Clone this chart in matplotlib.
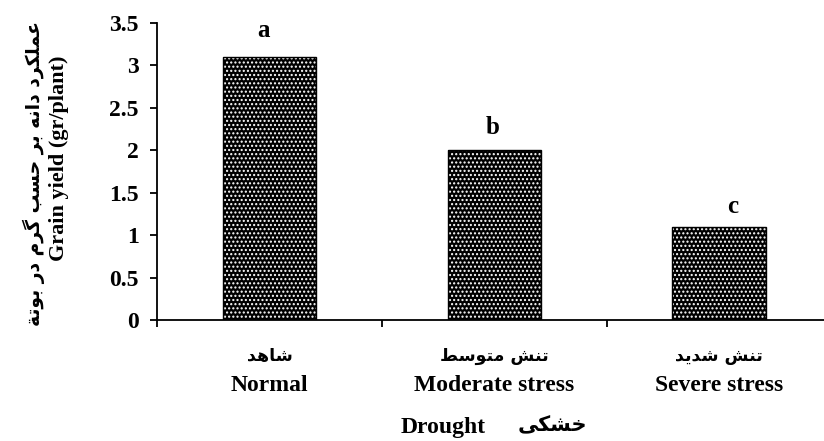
import matplotlib
matplotlib.use('Agg')
import matplotlib.pyplot as plt
from matplotlib.ticker import FormatStrFormatter

# ---------------- data ----------------
categories_en = ['Normal', 'Moderate stress', 'Severe stress']
categories_fa = ['شاهد', 'تنش متوسط', 'تنش شدید']
grain_yield = [3.1, 2.0, 1.1]
letters = ['a', 'b', 'c']
yticks = [0, 0.5, 1, 1.5, 2, 2.5, 3, 3.5]
ylabel_en = 'Grain yield (gr/plant)'
ylabel_fa = 'عملکرد دانه بر حسب گرم در بوتة'
xlabel_en = 'Drought'
xlabel_fa = 'خشکی'

# ------------- simple Arabic-script shaping (matplotlib has no CTL) -------------
_AR = {
    '\u0627': ('\uFE8D', '\uFE8E', None, None),        # alef
    '\u0628': ('\uFE8F', '\uFE90', '\uFE91', '\uFE92'),  # beh
    '\u0629': ('\uFE93', '\uFE94', None, None),        # teh marbuta
    '\u062A': ('\uFE95', '\uFE96', '\uFE97', '\uFE98'),  # teh
    '\u062D': ('\uFEA1', '\uFEA2', '\uFEA3', '\uFEA4'),  # hah
    '\u062E': ('\uFEA5', '\uFEA6', '\uFEA7', '\uFEA8'),  # khah
    '\u062F': ('\uFEA9', '\uFEAA', None, None),        # dal
    '\u0631': ('\uFEAD', '\uFEAE', None, None),        # reh
    '\u0633': ('\uFEB1', '\uFEB2', '\uFEB3', '\uFEB4'),  # seen
    '\u0634': ('\uFEB5', '\uFEB6', '\uFEB7', '\uFEB8'),  # sheen
    '\u0637': ('\uFEC1', '\uFEC2', '\uFEC3', '\uFEC4'),  # tah
    '\u0639': ('\uFEC9', '\uFECA', '\uFECB', '\uFECC'),  # ain
    '\u0644': ('\uFEDD', '\uFEDE', '\uFEDF', '\uFEE0'),  # lam
    '\u0645': ('\uFEE1', '\uFEE2', '\uFEE3', '\uFEE4'),  # meem
    '\u0646': ('\uFEE5', '\uFEE6', '\uFEE7', '\uFEE8'),  # noon
    '\u0647': ('\uFEE9', '\uFEEA', '\uFEEB', '\uFEEC'),  # heh
    '\u0648': ('\uFEED', '\uFEEE', None, None),        # waw
    '\u06A9': ('\uFB8E', '\uFB8F', '\uFB90', '\uFB91'),  # keheh
    '\u06AF': ('\uFB92', '\uFB93', '\uFB94', '\uFB95'),  # gaf
    '\u06CC': ('\uFBFC', '\uFBFD', '\uFBFE', '\uFBFF'),  # farsi yeh
}


def shape(text):
    out = []
    n = len(text)
    for i, ch in enumerate(text):
        if ch not in _AR:
            out.append(ch)
            continue
        prev = text[i - 1] if i > 0 else ''
        nxt = text[i + 1] if i < n - 1 else ''
        pj = prev in _AR and _AR[prev][2] is not None
        nj = _AR[ch][2] is not None and nxt in _AR
        iso, fin, ini, med = _AR[ch]
        if pj and nj:
            out.append(med)
        elif pj:
            out.append(fin)
        elif nj:
            out.append(ini)
        else:
            out.append(iso)
    return ''.join(reversed(out))


SERIF = ['Liberation Serif', 'DejaVu Serif']
FA = ['DejaVu Sans']

W, H = 824, 441
fig = plt.figure(figsize=(W / 100, H / 100), dpi=100)
ax = fig.add_axes([157 / W, (H - 320) / H, (831.5 - 157) / W, (320 - 23) / H])

x = list(range(len(grain_yield)))
bw = 0.415
ax.bar(x, grain_yield, width=bw, color='black', edgecolor='white',
       hatch='....', linewidth=0, zorder=2)
ax.bar(x, grain_yield, width=bw, fill=False, edgecolor='black',
       linewidth=1.0, zorder=3)

ax.set_xlim(-0.5, 2.5)
ax.set_ylim(0, 3.5)
ax.set_yticks(yticks)
ax.yaxis.set_major_formatter(FormatStrFormatter('%g'))
ax.set_xticks([-0.5, 0.5, 1.5, 2.5])
ax.set_xticklabels([])

for s in ['top', 'right']:
    ax.spines[s].set_visible(False)
for s in ['left', 'bottom']:
    ax.spines[s].set_linewidth(1.3)
ax.tick_params(axis='both', direction='out', length=5, width=1.3)
ax.tick_params(axis='y', pad=8)
for lbl in ax.get_yticklabels():
    lbl.set_fontfamily(SERIF)
    lbl.set_fontweight('bold')
    lbl.set_fontsize(17)

# significance letters
dx_pts = [-4, -1, 10]
dy_pts = [11, 8, 6]
for i, (v, L) in enumerate(zip(grain_yield, letters)):
    ax.annotate(L, (i, v), xytext=(dx_pts[i], dy_pts[i]), textcoords='offset points',
                ha='center', va='bottom', fontsize=18, fontweight='bold',
                family=SERIF)

# category labels (Persian above English)
tr = ax.get_xaxis_transform()
for i, (en, fa) in enumerate(zip(categories_en, categories_fa)):
    ax.text(i, -0.12, shape(fa), transform=tr, ha='center', va='center',
            fontsize=12.5, fontweight='bold', family=FA)
    ax.text(i, -0.22, en, transform=tr, ha='center', va='center',
            fontsize=17, fontweight='bold', family=SERIF)

# x axis title
fig.text(443 / W, 1 - 427 / H, xlabel_en, ha='center', va='center',
         fontsize=17, fontweight='bold', family=SERIF)
fig.text(552 / W, 1 - 425 / H, shape(xlabel_fa), ha='center', va='center',
         fontsize=15, fontweight='bold', family=FA)

# y axis titles
fig.text(59 / W, 1 - 158 / H, ylabel_en, rotation=90, ha='center', va='center',
         fontsize=16, fontweight='bold', family=SERIF)
fig.text(34 / W, 1 - 173 / H, shape(ylabel_fa), rotation=90, ha='center', va='center',
         fontsize=13.5, fontweight='bold', family=FA)

fig.savefig('out.png', dpi=100)
